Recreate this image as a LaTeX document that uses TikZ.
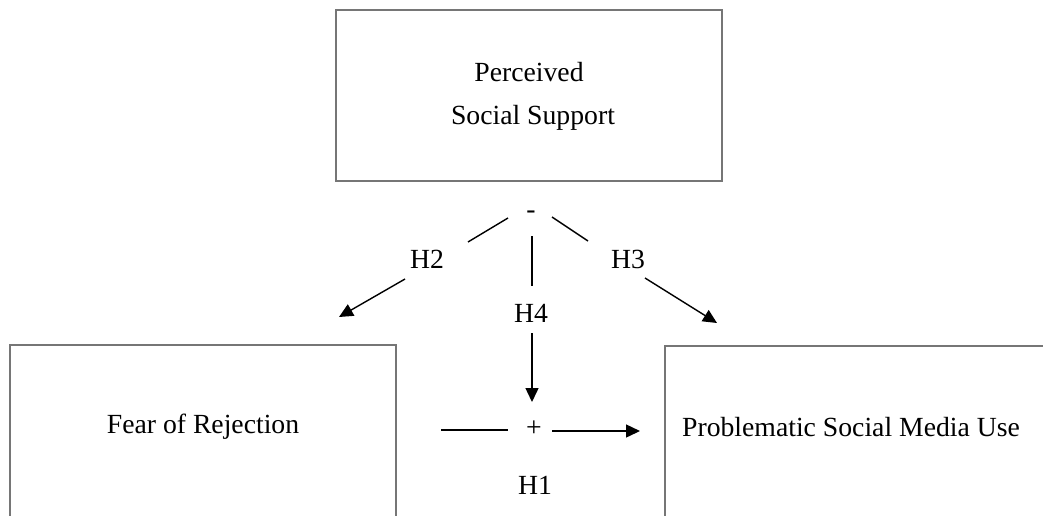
\documentclass[tikz,border=0pt]{standalone}
\usepackage{fontspec}
\setmainfont{Liberation Serif}
\usetikzlibrary{arrows.meta}
\definecolor{boxgray}{RGB}{118,118,118}
\tikzset{
  varbox/.style={draw=boxgray, line width=1.8pt},
  lbl/.style={font=\fontsize{27.7}{32}\selectfont, inner sep=0pt, anchor=center},
  link/.style={line width=1.4pt, black},
  arr/.style={link, -{Triangle[length=14pt,width=13pt]}}
}
\begin{document}
\begin{tikzpicture}[x=1pt,y=-1pt]
\useasboundingbox (0,0) rectangle (1043,515);
% boxes
\draw[varbox] (336,10) rectangle (722,181);
\draw[varbox] (10,345) rectangle (396,530);
\draw[varbox] (665,346) rectangle (1060,530);
% box texts
\node[lbl] (pss1) at (529,72) {Perceived};
\node[lbl] (pss2) at (533,118) {Social Support};
\node[lbl] (fear) at (203,427) {Fear of Rejection};
\node[lbl] (psmu) at (851,427) {Problematic Social Media Use};
% labels
\node[lbl] (minus) at (531,215) {-};
\node[lbl] (h2) at (427,259) {H2};
\node[lbl] (h3) at (628,259) {H3};
\node[lbl] (h4) at (531,313) {H4};
\node[lbl] (plus) at (534,429) {+};
\node[lbl] (h1) at (535,485) {H1};
% connector points
\coordinate (a1) at (468,242); \coordinate (a2) at (508,218);
\coordinate (b1) at (552,217); \coordinate (b2) at (588,241);
\coordinate (c1) at (405,279); \coordinate (c2) at (339,317);
\coordinate (d1) at (645,278); \coordinate (d2) at (717,323);
\coordinate (e1) at (532,236); \coordinate (e2) at (532,286);
\coordinate (f1) at (532,333); \coordinate (f2) at (532,402);
\coordinate (g1) at (441,430); \coordinate (g2) at (508,430);
\coordinate (k1) at (552,431); \coordinate (k2) at (640,431);
% connectors
\draw[link] (a1) -- (a2);
\draw[link] (b1) -- (b2);
\draw[arr] (c1) -- (c2);
\draw[arr] (d1) -- (d2);
\draw[link] (e1) -- (e2);
\draw[arr] (f1) -- (f2);
\draw[link] (g1) -- (g2);
\draw[arr] (k1) -- (k2);
\end{tikzpicture}
\end{document}
